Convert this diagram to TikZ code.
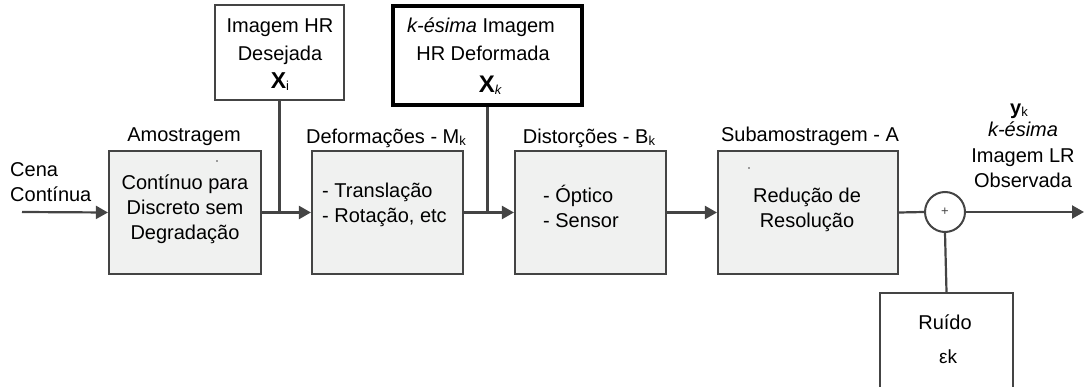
\documentclass[tikz,border=0pt]{standalone}
\usepackage{fontspec}
\setmainfont{Liberation Sans}
\usetikzlibrary{arrows.meta}
\definecolor{linegray}{HTML}{444444}
\definecolor{boxfill}{HTML}{F0F1F0}
\newcommand{\smallsub}[1]{\raisebox{-1.5pt}{\fontsize{13}{13}\selectfont #1}}
\tikzset{
  base font/.style={font=\fontsize{20}{25}\selectfont},
  block/.style={draw=linegray, line width=2.2pt, fill=boxfill, inner sep=0pt},
  inputbox/.style={draw=linegray, line width=2.2pt, fill=white, inner sep=0pt},
  heavybox/.style={draw=black, line width=3.2pt, fill=white, inner sep=0pt},
  txt/.style={base font, inner sep=0pt, align=center, anchor=base},
  txtl/.style={base font, inner sep=0pt, align=left, anchor=base west},
  wire/.style={draw=linegray, line width=2.2pt},
  flow/.style={wire, -{Triangle[length=12pt,width=13pt]}},
}
\begin{document}
\begin{tikzpicture}[x=1pt,y=-1pt]
\useasboundingbox (0,0) rectangle (1087,387);
\clip (0,0) rectangle (1087,387);

% processing blocks
\node[block, minimum width=152pt, minimum height=123pt] (amo) at (185,212.5) {};
\node[block, minimum width=151pt, minimum height=123pt] (def) at (387.5,212.5) {};
\node[block, minimum width=151pt, minimum height=123pt] (dis) at (590.5,212.5) {};
\node[block, minimum width=180pt, minimum height=123pt] (sub) at (808,212.5) {};

% side inputs
\node[inputbox, minimum width=129pt, minimum height=95pt] (hr) at (279.5,52.5) {};
\node[heavybox, minimum width=189pt, minimum height=99pt] (hrk) at (487.5,55.5) {};
\node[inputbox, minimum width=133pt, minimum height=110pt] (noise) at (946.5,348) {};

% summing junction
\node[draw=linegray, line width=2pt, circle, minimum size=40pt, inner sep=0pt, fill=white] (sum) at (945,212) {};
\node[font=\fontsize{13}{13}\selectfont, text=linegray, inner sep=0pt] (plus) at (945,211.5) {+};

% stray marks inside two blocks
\fill[linegray] (217,161) circle (0.9pt);
\fill[linegray] (749,168) circle (0.9pt);

% texts (multi-line nodes sit on the baseline of their last line)
\node[txtl] (cena) at (10,202) {Cena\\Contínua};
\node[txt] (amoT) at (184,142) {Amostragem};
\node[txt] (amoB) at (185,240) {Contínuo para\\Discreto sem\\Degradação};
\node[txt] (defT) at (386,144) {Deformações - M\smallsub{k}};
\node[txtl] (defB) at (322,223) {- Translação\\- Rotação, etc};
\node[txt] (disT) at (589,144) {Distorções - B\smallsub{k}};
\node[txtl] (disB) at (543,228) {- Óptico\\- Sensor};
\node[txt] (subT) at (810,142) {Subamostragem - A};
\node[txt] (subB) at (807,228) {Redução de\\Resolução};

\node[txt, font=\fontsize{20}{28}\selectfont] (hrB) at (280,89) {Imagem HR\\Desejada\\{\fontsize{23}{23}\selectfont\bfseries X}\smallsub{i}};
\node[txt] (hrkT) at (481,33) {\textit{k-ésima} Imagem};
\node[txt] (hrkM) at (483,61) {HR Deformada};
\node[txt] (hrkX) at (490,93) {{\fontsize{24}{24}\selectfont\bfseries X}\smallsub{\itshape k}};

\node[txt] (yk) at (1019,115) {{\bfseries y}\smallsub{k}};
\node[txt, font=\fontsize{20}{25.5}\selectfont] (ykB) at (1023,188) {\textit{k-ésima}\\Imagem LR\\Observada};

\node[txt] (noiseT) at (945,330) {Ruído};
\node[txt, font=\fontsize{19}{19}\selectfont] (noiseB) at (948,363) {εk};

% connectors
\coordinate (src) at (22,212);
\coordinate (sink) at (1084,212);
\coordinate (j1) at (hr.south |- amo.east);
\coordinate (j2) at (hrk.south |- def.east);

\draw[flow] (src) -- (amo.west);
\draw[flow] (amo.east) -- (def.west);
\draw[wire] (hr.south) -- (j1);
\draw[flow] (def.east) -- (dis.west);
\draw[wire] (hrk.south) -- (j2);
\draw[flow] (dis.east) -- (sub.west);
\draw[wire] (sub.east) -- (sum.west);
\draw[flow] (sum.east) -- (sink);
\draw[wire] (noise.north) -- (sum.south);
\end{tikzpicture}
\end{document}
